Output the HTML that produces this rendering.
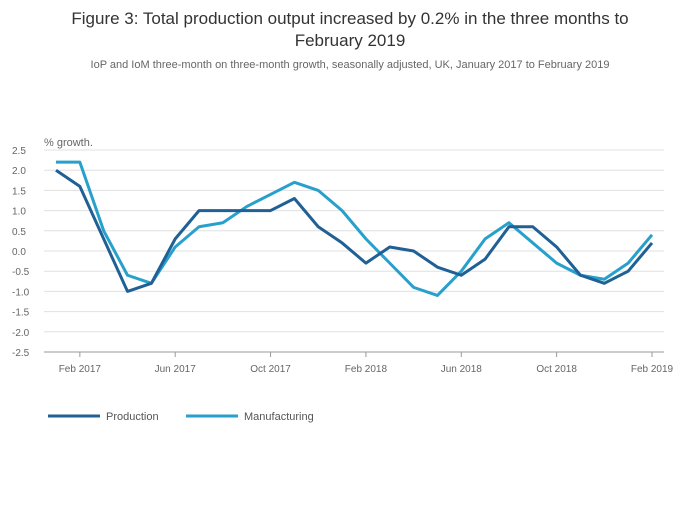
<!DOCTYPE html>
<html><head><meta charset="utf-8"><style>
body{margin:0;background:#fff;font-family:"Liberation Sans",sans-serif;}
#wrap{width:700px;height:502px;position:relative;}
</style></head><body>
<div id="wrap">
<svg id="chart" width="700" height="502">
<text x="350" y="24" text-anchor="middle" font-size="17" fill="#333">Figure 3: Total production output increased by 0.2% in the three months to</text>
<text x="350" y="46" text-anchor="middle" font-size="17" fill="#333">February 2019</text>
<text x="350" y="68" text-anchor="middle" font-size="11" fill="#666">IoP and IoM three-month on three-month growth, seasonally adjusted, UK, January 2017 to February 2019</text>
<text x="44" y="146" font-size="11" fill="#666">% growth.</text>
<g id="grid"></g><g id="series"></g>
<g>
<line x1="48" y1="416" x2="100" y2="416" stroke="#206095" stroke-width="3"/>
<text x="106" y="420" font-size="11" fill="#555">Production</text>
<line x1="186" y1="416" x2="238" y2="416" stroke="#27a0cc" stroke-width="3"/>
<text x="244" y="420" font-size="11" fill="#555">Manufacturing</text>
</g>
</svg></div>
<script>
const yTicks=[2.5,2.0,1.5,1.0,0.5,0.0,-0.5,-1.0,-1.5,-2.0,-2.5];
const xTickLabels=["Feb 2017","Jun 2017","Oct 2017","Feb 2018","Jun 2018","Oct 2018","Feb 2019"];
const xTickIdx=[1,5,9,13,17,21,25];
const production=[2.0,1.6,0.3,-1.0,-0.8,0.3,1.0,1.0,1.0,1.0,1.3,0.6,0.2,-0.3,0.1,0.0,-0.4,-0.6,-0.2,0.6,0.6,0.1,-0.6,-0.8,-0.5,0.2];
const manufacturing=[2.2,2.2,0.5,-0.6,-0.8,0.1,0.6,0.7,1.1,1.4,1.7,1.5,1.0,0.3,-0.3,-0.9,-1.1,-0.5,0.3,0.7,0.2,-0.3,-0.6,-0.7,-0.3,0.4];
const NS="http://www.w3.org/2000/svg";
function xs(i){return 56+i*(652-56)/25;}
function ys(v){return 251-v*40.4;}
const grid=document.getElementById('grid');
yTicks.forEach(v=>{
 const l=document.createElementNS(NS,'line');
 l.setAttribute('x1',44);l.setAttribute('x2',664);l.setAttribute('y1',ys(v));l.setAttribute('y2',ys(v));
 l.setAttribute('stroke',v===-2.5?'#999':'#e0e0e0');
 
 
 grid.appendChild(l);
 const t=document.createElementNS(NS,'text');
 t.setAttribute('x',12);t.setAttribute('y',ys(v)+4);t.setAttribute('font-size','10');t.setAttribute('fill','#666');
 t.textContent=v.toFixed(1);
 
 
 grid.appendChild(t);
});
xTickLabels.forEach((lab,k)=>{
 const x=xs(xTickIdx[k]);
 const l=document.createElementNS(NS,'line');
 l.setAttribute('x1',x);l.setAttribute('x2',x);l.setAttribute('y1',352);l.setAttribute('y2',357);l.setAttribute('stroke','#999');
 
 
 grid.appendChild(l);
 const t=document.createElementNS(NS,'text');
 t.setAttribute('x',x);t.setAttribute('y',372);t.setAttribute('text-anchor','middle');t.setAttribute('font-size','10');t.setAttribute('fill','#666');
 t.textContent=lab;
 
 
 grid.appendChild(t);
});
const ser=document.getElementById('series');
[[manufacturing,'#27a0cc','manufacturing-line'],[production,'#206095','production-line']].forEach(([d,c,n])=>{
 const p=document.createElementNS(NS,'polyline');
 p.setAttribute('points',d.map((v,i)=>xs(i)+','+ys(v)).join(' '));
 p.setAttribute('fill','none');p.setAttribute('stroke',c);p.setAttribute('stroke-width','3');p.setAttribute('stroke-linejoin','round');
 
 
 ser.appendChild(p);
});
</script>
</body></html>
